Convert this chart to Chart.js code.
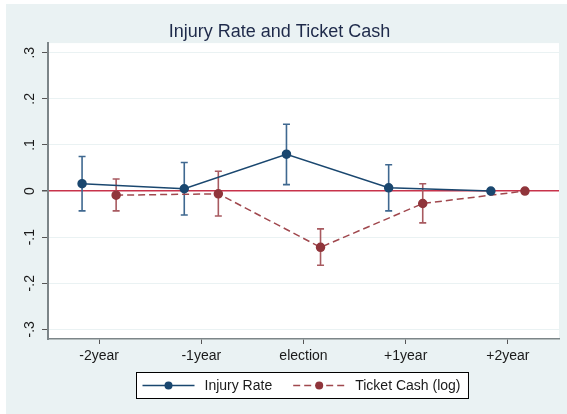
<!DOCTYPE html>
<html>
<head>
<meta charset="utf-8">
<script src="https://cdn.jsdelivr.net/npm/chart.js@4"></script>
<style>
  html, body { margin: 0; padding: 0; background: #fff; }
  #wrap { width: 567px; height: 414px; }
</style>
</head>
<body>
<div id="wrap"><canvas id="chart" width="567" height="414"></canvas></div>
<script>
// periods on the x axis
const periods = ["-2year", "-1year", "election", "+1year", "+2year"];
const periodPos = [-2, -1, 0, 1, 2];

// y tick labels (Stata style)
const yTickValues = [-0.3, -0.2, -0.1, 0, 0.1, 0.2, 0.3];
const yTickLabels = ["-.3", "-.2", "-.1", "0", ".1", ".2", ".3"];

// Injury Rate: estimate and 95% CI
const injury = [0.016, 0.005, 0.080, 0.007, 0.000];
const injuryLo = [-0.043, -0.052, 0.014, -0.043, null];
const injuryHi = [0.075, 0.062, 0.145, 0.057, null];

// Ticket Cash (log): estimate and 95% CI
const cash = [-0.009, -0.006, -0.122, -0.027, 0.000];
const cashLo = [-0.043, -0.054, -0.161, -0.069, null];
const cashHi = [0.026, 0.043, -0.082, 0.016, null];

const BLUE = "#1a476f";
const RED = "#90353b";
const FONT = "'Liberation Sans', Arial, sans-serif";
const dodge = 1 / 6;

function pts(vals, shift) {
    return vals.map((v, i) => ({x: periodPos[i] + shift, y: v}));
}

// background: outer frame, light blue graph region, white plot region
const bgPlugin = {
    id: "bg",
    beforeDraw(chart) {
        const c = chart.ctx, a = chart.chartArea;
        c.save();
        c.fillStyle = "#ffffff";
        c.fillRect(0, 0, chart.width, chart.height);
        c.fillStyle = "#eaf2f3";
        c.fillRect(6, 4, chart.width - 6, chart.height - 4);
        c.fillStyle = "#ffffff";
        c.fillRect(a.left, a.top, a.right - a.left, a.bottom - a.top);
        c.restore();
    }
};

// confidence interval bars with caps
const ciPlugin = {
    id: "ci",
    beforeDatasetsDraw(chart) {
        const c = chart.ctx;
        const xs = chart.scales.x, ys = chart.scales.y;
        chart.data.datasets.forEach(ds => {
            c.save();
            c.strokeStyle = ds.ciColor;
            c.lineWidth = 1.6;
            ds.data.forEach((p, i) => {
                if (ds.lo[i] == null) return;
                const px = xs.getPixelForValue(p.x);
                const y1 = ys.getPixelForValue(ds.lo[i]);
                const y2 = ys.getPixelForValue(ds.hi[i]);
                c.beginPath();
                c.moveTo(px, y1); c.lineTo(px, y2);
                c.moveTo(px - 3.5, y1); c.lineTo(px + 3.5, y1);
                c.moveTo(px - 3.5, y2); c.lineTo(px + 3.5, y2);
                c.stroke();
            });
            c.restore();
        });
    }
};

// boxed legend under the x axis
const legendBox = {
    id: "legendBox",
    afterDraw(chart) {
        const c = chart.ctx, a = chart.chartArea;
        c.save();
        c.font = "14px " + FONT;
        const symW = 52, gapText = 10, gapItem = 21, padL = 6, padR = 8;
        const items = chart.data.datasets.map(ds => ({ds, w: c.measureText(ds.label).width}));
        let total = padL + padR;
        items.forEach((it, i) => { total += symW + gapText + it.w + (i ? gapItem : 0); });
        const cx = (a.left + a.right) / 2 - 2;
        const left = Math.round(cx - total / 2) + 0.5;
        const top = 372.5, h = 26;
        c.fillStyle = "#fff";
        c.fillRect(left, top, total, h);
        c.strokeStyle = "#000";
        c.lineWidth = 1;
        c.strokeRect(left, top, total, h);
        const cy = top + h / 2;
        let x = left + padL;
        items.forEach((it, i) => {
            if (i) x += gapItem;
            c.strokeStyle = it.ds.borderColor;
            c.lineWidth = 1.5;
            c.setLineDash(it.ds.borderDash || []);
            c.beginPath(); c.moveTo(x, cy); c.lineTo(x + symW, cy); c.stroke();
            c.setLineDash([]);
            c.fillStyle = it.ds.pointBackgroundColor;
            c.beginPath(); c.arc(x + symW / 2, cy, 4, 0, Math.PI * 2); c.fill();
            x += symW + gapText;
            c.fillStyle = "#1a1a1a";
            c.textBaseline = "middle";
            c.fillText(it.ds.label, x, cy + 1);
            x += it.w;
        });
        c.restore();
    }
};

new Chart(document.getElementById("chart"), {
    type: "line",
    data: {
        datasets: [
            {
                label: "Injury Rate",
                data: pts(injury, -dodge),
                lo: injuryLo, hi: injuryHi,
                ciColor: "#3f6890",
                borderColor: BLUE,
                borderWidth: 1.5,
                pointBackgroundColor: BLUE,
                pointBorderColor: BLUE,
                pointRadius: 4,
                tension: 0
            },
            {
                label: "Ticket Cash (log)",
                data: pts(cash, dodge),
                lo: cashLo, hi: cashHi,
                ciColor: "#a85a60",
                borderColor: "#a0484e",
                borderDash: [7, 4],
                borderWidth: 1.5,
                pointBackgroundColor: RED,
                pointBorderColor: RED,
                pointRadius: 4,
                tension: 0
            }
        ]
    },
    options: {
        responsive: false,
        animation: false,
        layout: { padding: { left: 0, right: 8, top: 0, bottom: 0 } },
        plugins: {
            legend: { display: false },
            tooltip: { enabled: false },
            title: {
                display: true,
                text: "Injury Rate and Ticket Cash",
                color: "#1e2a4a",
                font: { family: FONT, size: 18, weight: "normal" },
                padding: { top: 21.5, bottom: 0 }
            }
        },
        scales: {
            x: {
                type: "linear",
                min: -2.5, max: 2.5,
                afterFit(s) { s.height = 75; },
                afterBuildTicks(s) { s.ticks = periodPos.map(v => ({value: v})); },
                border: { display: true, color: "#7c8588", width: 1.5 },
                grid: { drawOnChartArea: false, drawTicks: true, tickLength: 5, tickColor: "#555", lineWidth: 1 },
                ticks: {
                    autoSkip: false,
                    maxRotation: 0,
                    padding: 4,
                    color: "#1a1a1a",
                    font: { family: FONT, size: 14 },
                    callback: v => {
                        const i = periodPos.indexOf(Math.round(v));
                        return i >= 0 ? periods[i] : "";
                    }
                }
            },
            y: {
                min: -0.321, max: 0.321,
                afterFit(s) { s.width = 48; },
                afterBuildTicks(s) { s.ticks = yTickValues.map(v => ({value: v})); },
                border: { display: true, color: "#7c8588", width: 2 },
                grid: {
                    drawTicks: true,
                    tickLength: 6,
                    tickColor: "#555",
                    color: ctx => (ctx.tick && Math.abs(ctx.tick.value) < 1e-9) ? "#c8334b" : "#eaf2f3",
                    lineWidth: ctx => (ctx.tick && Math.abs(ctx.tick.value) < 1e-9) ? 1.5 : 1
                },
                ticks: {
                    minRotation: 90,
                    maxRotation: 90,
                    crossAlign: "center",
                    padding: 4,
                    color: "#1a1a1a",
                    font: { family: FONT, size: 14 },
                    callback: v => {
                        const i = yTickValues.findIndex(t => Math.abs(t - v) < 1e-6);
                        return i >= 0 ? yTickLabels[i] : "";
                    }
                }
            }
        }
    },
    plugins: [bgPlugin, ciPlugin, legendBox]
});
</script>
</body>
</html>
